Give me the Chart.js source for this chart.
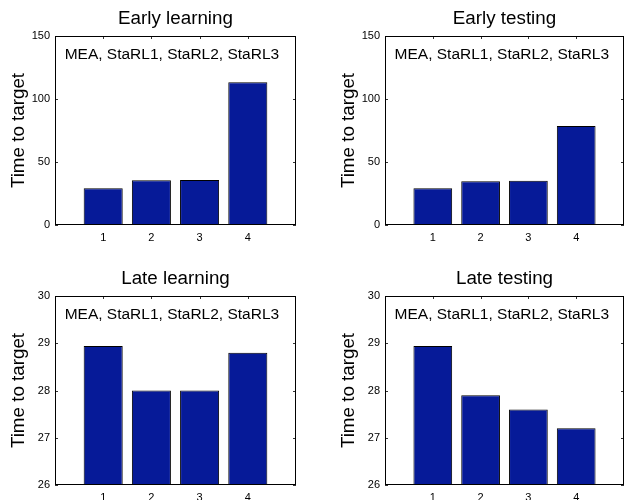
<!DOCTYPE html>
<html>
<head>
<meta charset="utf-8">
<title>Time to target</title>
<script src="https://cdn.jsdelivr.net/npm/chart.js@4.4.1/dist/chart.umd.min.js"></script>
<style>
  html, body { margin: 0; padding: 0; background: #fff; }
  #wrap { position: relative; width: 625px; height: 500px; overflow: hidden; }
  #wrap canvas { position: absolute; }
</style>
</head>
<body>
<div id="wrap">
  <canvas id="earlyLearning" width="312" height="250" style="left:0;top:0"></canvas>
  <canvas id="earlyTesting" width="313" height="250" style="left:312px;top:0"></canvas>
  <canvas id="lateLearning" width="312" height="250" style="left:0;top:250px"></canvas>
  <canvas id="lateTesting" width="313" height="250" style="left:312px;top:250px"></canvas>
</div>
<script>
// Conditions 1..4 = MEA, StaRL1, StaRL2, StaRL3
const conditions = [1, 2, 3, 4];
const earlyLearningTimes = [29.1, 35.5, 35.7, 113.2];
const earlyTestingTimes = [29.1, 34.7, 35.2, 78.6];
const lateLearningTimes = [28.94, 28.0, 28.0, 28.8];
const lateTestingTimes = [28.94, 27.9, 27.6, 27.2];
const earlyTicks = [0, 50, 100, 150];
const lateTicks = [26, 27, 28, 29, 30];
const methodsNote = 'MEA, StaRL1, StaRL2, StaRL3';
const yAxisLabel = 'Time to target';

const FONT = '"Liberation Sans", Arial, Helvetica, sans-serif';
const BAR_FILL = '#061A98';

const panels = [
  { id: 'earlyLearning', title: 'Early learning', values: earlyLearningTimes, yTicks: earlyTicks, noteY: 135,
    padLeft: 0, padRight: 16, padTop: 0, xAxisHeight: 25 },
  { id: 'earlyTesting', title: 'Early testing', values: earlyTestingTimes, yTicks: earlyTicks, noteY: 135,
    padLeft: 18, padRight: 1, padTop: 0, xAxisHeight: 25 },
  { id: 'lateLearning', title: 'Late learning', values: lateLearningTimes, yTicks: lateTicks, noteY: 29.6,
    padLeft: 0, padRight: 16, padTop: 10, xAxisHeight: 15 },
  { id: 'lateTesting', title: 'Late testing', values: lateTestingTimes, yTicks: lateTicks, noteY: 29.6,
    padLeft: 18, padRight: 1, padTop: 10, xAxisHeight: 15 }
];

// Boxed axes with short inward tick marks on all four sides, plus the in-plot note
const boxedAxes = {
  id: 'boxedAxes',
  beforeDatasetsDraw(chart) {
    const { ctx, chartArea: a, scales: { x, y } } = chart;
    const len = 3;
    ctx.save();
    ctx.strokeStyle = '#333';
    ctx.lineWidth = 1;
    ctx.beginPath();
    x.ticks.forEach(t => {
      const px = Math.round(x.getPixelForValue(t.value)) + 0.5;
      ctx.moveTo(px, a.top); ctx.lineTo(px, a.top + len);
      ctx.moveTo(px, a.bottom); ctx.lineTo(px, a.bottom - len);
    });
    y.ticks.forEach(t => {
      const py = Math.round(y.getPixelForValue(t.value)) + 0.5;
      ctx.moveTo(a.left, py); ctx.lineTo(a.left + len, py);
      ctx.moveTo(a.right, py); ctx.lineTo(a.right - len, py);
    });
    ctx.stroke();
    ctx.restore();
  },
  afterDatasetsDraw(chart, args, opts) {
    const { ctx, chartArea: a, scales: { x, y } } = chart;
    ctx.save();
    ctx.strokeStyle = '#000';
    ctx.lineWidth = 1;
    const l = Math.round(a.left) + 0.5, t = Math.round(a.top) + 0.5;
    const r = Math.round(a.right) - 0.5, b = Math.round(a.bottom) - 0.5;
    ctx.strokeRect(l, t, r - l, b - t);
    ctx.fillStyle = '#000';
    ctx.font = '15.5px ' + FONT;
    ctx.textAlign = 'left';
    ctx.textBaseline = 'middle';
    ctx.fillText(opts.text, x.getPixelForValue(0.2), y.getPixelForValue(opts.y));
    ctx.restore();
  }
};

panels.forEach(p => {
  new Chart(document.getElementById(p.id), {
    type: 'bar',
    data: {
      datasets: [{
        data: conditions.map((c, i) => ({ x: c, y: p.values[i] })),
        backgroundColor: BAR_FILL,
        borderColor: '#000',
        borderWidth: 1,
        borderSkipped: 'bottom',
        categoryPercentage: 1,
        barPercentage: 0.81
      }]
    },
    options: {
      responsive: false,
      animation: false,
      events: [],
      layout: { padding: { left: p.padLeft, right: p.padRight, top: p.padTop, bottom: 0 } },
      scales: {
        x: {
          type: 'linear',
          offset: false,
          min: 0,
          max: 5,
          grid: { display: false, drawTicks: false },
          border: { display: false },
          afterBuildTicks: s => { s.ticks = conditions.map(v => ({ value: v })); },
          afterFit: s => { s.height = p.xAxisHeight; },
          ticks: { padding: 6, color: '#000', font: { family: FONT, size: 11 } }
        },
        y: {
          min: p.yTicks[0],
          max: p.yTicks[p.yTicks.length - 1],
          grid: { display: false, drawTicks: false },
          border: { display: false },
          afterBuildTicks: s => { s.ticks = p.yTicks.map(v => ({ value: v })); },
          afterFit: s => { s.width = 55; },
          ticks: { padding: 5, color: '#000', font: { family: FONT, size: 11 } },
          title: {
            display: true,
            text: yAxisLabel,
            color: '#000',
            padding: { top: 9, bottom: 0 },
            font: { family: FONT, size: 18.8, lineHeight: '19px' }
          }
        }
      },
      plugins: {
        legend: { display: false },
        tooltip: { enabled: false },
        title: {
          display: true,
          text: p.title,
          fullSize: false,
          color: '#000',
          padding: { top: 9, bottom: 8 },
          font: { family: FONT, size: 18.8, weight: 'normal', lineHeight: '19px' }
        },
        boxedAxes: { text: methodsNote, y: p.noteY }
      }
    },
    plugins: [boxedAxes]
  });
});
</script>
</body>
</html>
